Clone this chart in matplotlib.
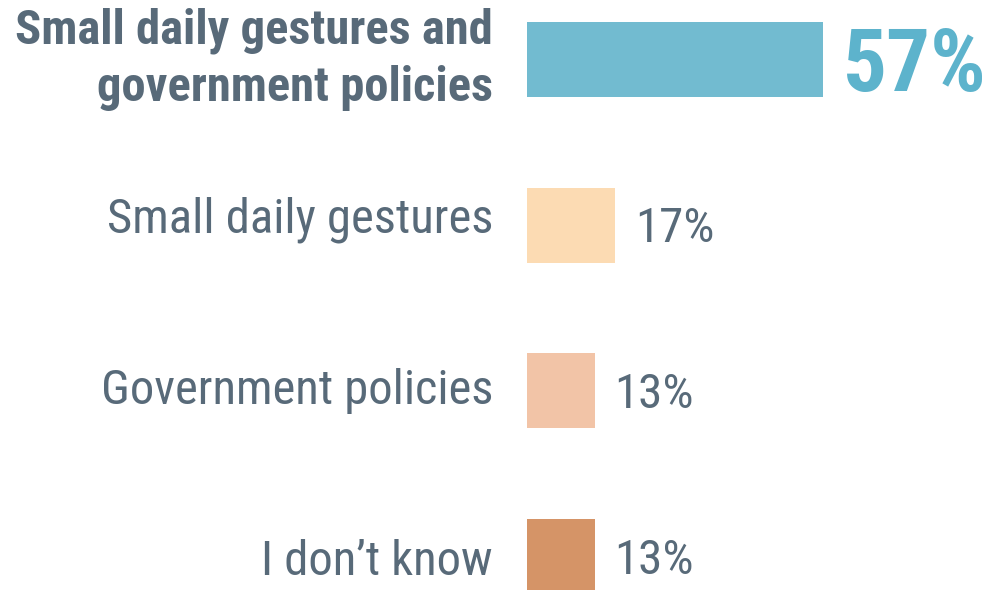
import matplotlib
matplotlib.use("Agg")
import matplotlib.pyplot as plt
from matplotlib.transforms import offset_copy

# ---- data ----
categories = ["Small daily gestures and\ngovernment policies",
              "Small daily gestures",
              "Government policies",
              "I don\u2019t know"]
values = [57, 17, 13, 13]
pct_labels = ["57%", "17%", "13%", "13%"]
bar_colors = ["#72BBD0", "#FCDBB3", "#F2C4A7", "#D59467"]

# ---- style ----
TEXT = "#586A79"
HIGHLIGHT = "#5DB3CC"
FONT = "Roboto Condensed"
CAT_SIZE = 35

W, H = 989, 590
fig = plt.figure(figsize=(W / 100, H / 100), dpi=100)
left_px = 527
ax = fig.add_axes([left_px / W, 0, 1 - left_px / W, 1])
px_per_unit = 296 / 57
spacing = 165.5
top_center = 59.5
ax.set_xlim(0, (W - left_px) / px_per_unit)
ax.set_ylim(3 + (H - top_center - 3 * spacing) / spacing, -top_center / spacing)
ax.axis("off")

ypos = list(range(len(values)))
ax.barh(ypos, values, height=75 / spacing, color=bar_colors, linewidth=0)

label_gap = 34  # px between label right edge and bar start
for i, (cat, v, pl) in enumerate(zip(categories, values, pct_labels)):
    if i == 0:
        lines = cat.split("\n")
        offs = [15.5, -41.5]
        for ln, dy in zip(lines, offs):
            tr = offset_copy(ax.transData, fig, x=-label_gap, y=dy, units="dots")
            ax.text(0, i, ln, transform=tr, ha="right", va="baseline",
                    fontsize=CAT_SIZE, fontweight="bold", family=FONT, color=TEXT)
        tr = offset_copy(ax.transData, fig, x=20, y=-31, units="dots")
        ax.text(v, i, pl, transform=tr, ha="left", va="baseline",
                fontsize=62.8, fontweight="bold", family=FONT, color=HIGHLIGHT)
    else:
        dy = -(7.7 + 5.75 * (i - 1))
        tr = offset_copy(ax.transData, fig, x=-label_gap, y=dy, units="dots")
        ax.text(0, i, cat, transform=tr, ha="right", va="baseline",
                fontsize=CAT_SIZE, family=FONT, color=TEXT)
        tr = offset_copy(ax.transData, fig, x=20, y=-17.5, units="dots")
        ax.text(v, i, pl, transform=tr, ha="left", va="baseline",
                fontsize=35.4, family=FONT, color=TEXT)

fig.savefig("out.png", dpi=100)
